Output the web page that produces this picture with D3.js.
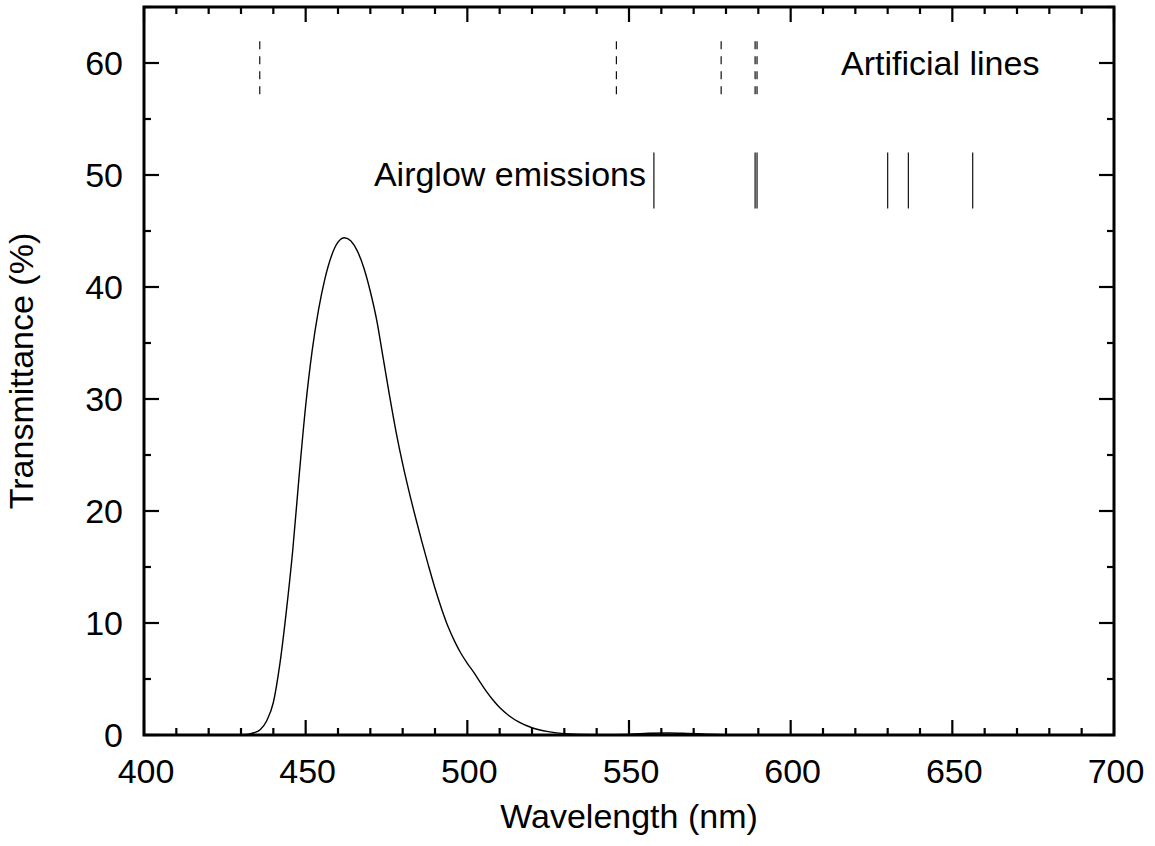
<!DOCTYPE html>
<html>
<head>
<meta charset="utf-8">
<script src="https://cdn.jsdelivr.net/npm/d3@7"></script>
<style>
  body { margin: 0; background: #fff; }
  svg text { font-family: "Liberation Sans", Arial, sans-serif; fill: #000; }
</style>
</head>
<body>
<div id="vis"></div>
<script>
// filter transmittance curve (wavelength nm, transmittance %)
var wavelength = [400, 410, 420, 428, 432, 434, 436, 438, 440, 442, 444, 446, 448, 450, 452, 454, 456, 458, 460, 462, 464, 466, 468, 470, 472, 474, 476, 478, 480, 482, 484, 486, 488, 490, 492, 494, 496, 498, 500, 502, 504, 506, 508, 510, 513, 516, 520, 525, 530, 540, 550, 556, 562, 568, 574, 580, 590, 620, 660, 700];
var transmittance = [0, 0, 0, 0, 0.05, 0.2, 0.5, 1.3, 2.9, 6.3, 11.0, 16.5, 23.2, 29.4, 34.3, 38.0, 40.8, 42.8, 44.0, 44.4, 44.1, 43.2, 41.7, 39.6, 37.0, 33.6, 30.2, 27.0, 24.2, 21.7, 19.4, 17.2, 15.1, 13.1, 11.3, 9.7, 8.4, 7.3, 6.4, 5.6, 4.7, 3.85, 3.1, 2.45, 1.7, 1.15, 0.65, 0.3, 0.12, 0.03, 0.06, 0.15, 0.18, 0.14, 0.08, 0.03, 0, 0, 0, 0];

// emission line positions (nm)
var artificialLines = [435.8, 546.1, 578.5, 589.0, 589.6];
var airglowLines = [557.7, 589.0, 589.6, 630.0, 636.4, 656.3];

var xTicks = [400, 450, 500, 550, 600, 650, 700];
var yTicks = [0, 10, 20, 30, 40, 50, 60];

var width = 1155;
var height = 846;
var margin = { top: 7, left: 144, bottom: 111, right: 41 };

var svg = d3.select('#vis').append('svg')
  .attr('width', width)
  .attr('height', height);

var x = d3.scaleLinear().domain([400, 700])
  .range([margin.left, width - margin.right]);
var y = d3.scaleLinear().domain([0, 65])
  .range([height - margin.bottom, margin.top]);

var x0 = x.range()[0], x1 = x.range()[1];
var y0 = y.range()[0], y1 = y.range()[1];

// ticks on all four sides, pointing inward
var g = svg.append('g');
var majorLen = 15, minorLen = 7;

d3.range(400, 701, 10).forEach(function(v) {
  var len = (v % 50 === 0) ? majorLen : minorLen;
  g.append('line').attr('x1', x(v)).attr('x2', x(v))
    .attr('y1', y0).attr('y2', y0 - len);
  g.append('line').attr('x1', x(v)).attr('x2', x(v))
    .attr('y1', y1).attr('y2', y1 + len);
});
d3.range(0, 66, 5).forEach(function(v) {
  var len = (v % 10 === 0) ? majorLen : minorLen;
  g.append('line').attr('y1', y(v)).attr('y2', y(v))
    .attr('x1', x0).attr('x2', x0 + len);
  g.append('line').attr('y1', y(v)).attr('y2', y(v))
    .attr('x1', x1).attr('x2', x1 - len);
});
g.selectAll('line').attr('stroke', '#000').attr('stroke-width', 2.2);

// tick labels
svg.selectAll('.xlab').data(xTicks).enter().append('text')
  .attr('class', 'xlab')
  .attr('x', function(d) { return x(d) + 2; })
  .attr('y', y0 + 48)
  .attr('text-anchor', 'middle')
  .style('font-size', '34px')
  .text(function(d) { return d; });

svg.selectAll('.ylab').data(yTicks).enter().append('text')
  .attr('class', 'ylab')
  .attr('x', x0 - 21)
  .attr('y', function(d) { return y(d) + 12; })
  .attr('text-anchor', 'end')
  .style('font-size', '34px')
  .text(function(d) { return d; });

// axis titles
svg.append('text')
  .attr('x', (x0 + x1) / 2)
  .attr('y', 828)
  .attr('text-anchor', 'middle')
  .style('font-size', '34px')
  .text('Wavelength (nm)');

svg.append('text')
  .attr('transform', 'translate(33,' + ((y0 + y1) / 2) + ') rotate(-90)')
  .attr('text-anchor', 'middle')
  .style('font-size', '34px')
  .text('Transmittance (%)');

// artificial lines (dashed)
svg.selectAll('.art').data(artificialLines).enter().append('line')
  .attr('class', 'art')
  .attr('x1', function(d) { return x(d); })
  .attr('x2', function(d) { return x(d); })
  .attr('y1', y(57.2)).attr('y2', y(62))
  .attr('stroke', '#111')
  .attr('stroke-width', 1.2)
  .attr('stroke-dasharray', '8,7');

// airglow lines (solid)
svg.selectAll('.air').data(airglowLines).enter().append('line')
  .attr('class', 'air')
  .attr('x1', function(d) { return x(d); })
  .attr('x2', function(d) { return x(d); })
  .attr('y1', y(47)).attr('y2', y(52))
  .attr('stroke', '#111')
  .attr('stroke-width', 1.2);

svg.append('text')
  .attr('x', 841)
  .attr('y', y(58.9))
  .style('font-size', '34px')
  .text('Artificial lines');

svg.append('text')
  .attr('x', 646)
  .attr('y', y(49))
  .attr('text-anchor', 'end')
  .style('font-size', '34px')
  .text('Airglow emissions');

// transmittance curve
var curveData = wavelength.map(function(w, i) { return [w, transmittance[i]]; });
var line = d3.line()
  .x(function(d) { return x(d[0]); })
  .y(function(d) { return y(d[1]); })
  .curve(d3.curveMonotoneX);

svg.append('path')
  .datum(curveData)
  .attr('d', line)
  .attr('fill', 'none')
  .attr('stroke', '#000')
  .attr('stroke-width', 1.4);

// frame
svg.append('rect')
  .attr('x', x0).attr('y', y1)
  .attr('width', x1 - x0).attr('height', y0 - y1)
  .attr('fill', 'none')
  .attr('stroke', '#000')
  .attr('stroke-width', 3);
</script>
</body>
</html>
